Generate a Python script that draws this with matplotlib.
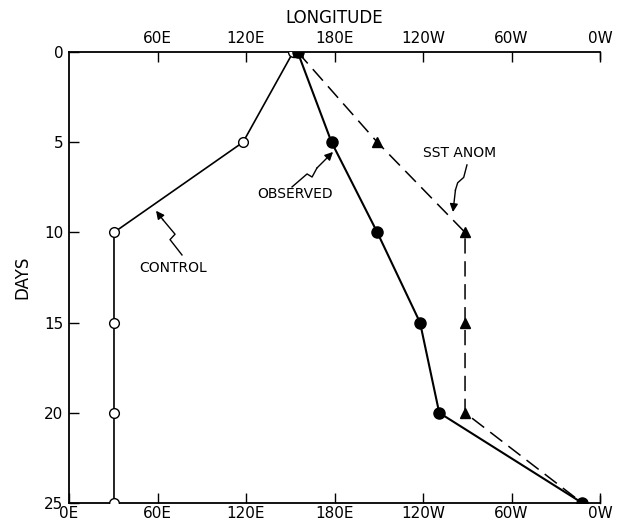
import numpy as np
import matplotlib.pyplot as plt

# longitude in degrees east (0-360), time in days
days = [0, 5, 10, 15, 20, 25]
lon_control = [152, 118, 30.5, 30.5, 30.5, 30.5]
lon_observed = [155, 178, 209, 238, 251, 348]
lon_sst = [155, 209, 268.5, 268.5, 268.5, 348]

lon_ticks = [0, 60, 120, 180, 240, 300, 360]
lon_labels = ['0E', '60E', '120E', '180E', '120W', '60W', '0W']
day_ticks = [0, 5, 10, 15, 20, 25]

plt.rcParams['font.family'] = 'DejaVu Sans'

fig = plt.figure(figsize=(6.24, 5.25), dpi=100)
ax = fig.add_axes([69/624, 1 - 503/525, 531/624, 451/525])

ax.plot(lon_control, days, c='black', linewidth=1.2, marker='o',
        markersize=7, markerfacecolor='white', markeredgecolor='black',
        markeredgewidth=1.0, zorder=3)
ax.plot(lon_observed, days, c='black', linewidth=1.5, marker='o',
        markersize=8, zorder=4)
ax.plot(lon_sst, days, c='black', linewidth=1.1, linestyle=(0, (10, 5)),
        marker='^', markersize=7, zorder=3)

ax.set_xlim(0, 360)
ax.set_ylim(25, 0)

# bottom axis
ax.set_xticks(lon_ticks)
ax.set_xticklabels(lon_labels)
# top axis, no label at 0E
top = ax.secondary_xaxis('top')
top.set_xticks(lon_ticks[1:])
top.set_xticklabels(lon_labels[1:])
top.tick_params(direction='in', length=7, width=1, labelsize=11, pad=4)
top.spines['top'].set_linewidth(1.3)
top.set_xlabel('LONGITUDE', fontsize=12, labelpad=6)

ax.set_yticks(day_ticks)
ax.tick_params(axis='x', direction='in', length=7, width=1, labelsize=11, pad=2)
ax.tick_params(axis='y', direction='in', length=7, width=1, labelsize=11, pad=4)
ax.set_ylabel('DAYS', fontsize=12, labelpad=9)

ax.spines['right'].set_visible(False)
ax.spines['top'].set_visible(False)
for s in ['left', 'bottom']:
    ax.spines[s].set_linewidth(1.3)
ax.plot([360, 360], [25, 24.6], c='black', linewidth=1, clip_on=False)
ax.plot([360, 360], [0, 0.4], c='black', linewidth=1, clip_on=False)


def squiggle(pts, label, text_xy):
    xs = [p[0] for p in pts]
    ys = [p[1] for p in pts]
    ax.plot(xs[:-1], ys[:-1], c='black', linewidth=1.0)
    ax.annotate('', xy=pts[-1], xytext=pts[-2],
                arrowprops=dict(arrowstyle='-|>', color='black', lw=1.0,
                                mutation_scale=12, shrinkA=0, shrinkB=0))
    ax.text(text_xy[0], text_xy[1], label, fontsize=10, ha='center', va='center')


squiggle([(76.6, 11.25), (68.5, 10.4), (71.9, 10.1), (63.7, 9.3), (59, 8.8)],
         'CONTROL', (70.5, 11.95))
squiggle([(151.2, 7.48), (161.4, 6.76), (164.8, 6.93), (168.1, 6.43), (179, 5.54)],
         'OBSERVED', (153, 7.85))
squiggle([(269.8, 6.26), (267.6, 6.95), (263.5, 7.25), (262, 7.65), (260.3, 8.87)],
         'SST ANOM', (265, 5.6))

fig.savefig('out.png', dpi=100)
